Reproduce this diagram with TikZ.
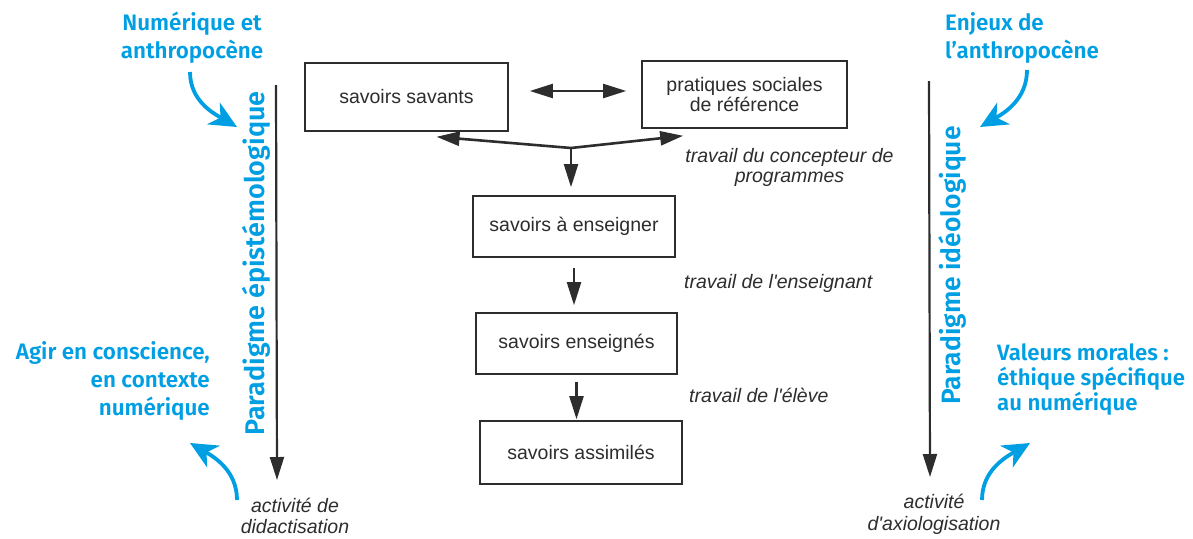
\documentclass[tikz,border=0pt]{standalone}
\usepackage{fontspec}
\setmainfont{Liberation Sans}
\newfontfamily\policebleue{Fira Sans SemiBold}
\usepackage{tikz}
\usetikzlibrary{arrows.meta}
\definecolor{bleu}{RGB}{0,159,227}
\definecolor{trait}{RGB}{45,45,45}

\begin{document}
\begin{tikzpicture}[x=1pt, y=-1pt,
    boite/.style={draw=trait, line width=1.6pt, text=trait, inner sep=0pt, align=center, font=\fontsize{19.5}{20}\selectfont},
    fleche/.style={draw=trait, line width=2.2pt, >={Triangle[length=23pt,width=14pt]}},
    legende/.style={text=trait, inner sep=0pt, font=\fontsize{19.5}{20}\selectfont\itshape},
    bleutexte/.style={text=bleu, inner sep=0pt, font=\fontsize{22.4}{28}\policebleue},
    courbe/.style={draw=bleu, line width=3.8pt, -{Stealth[length=27pt,width=25pt,inset=8pt]}}]
    \useasboundingbox (0,0) rectangle (1193,538);

    % Les cinq boites du schema
    \node[boite, minimum width=203pt, minimum height=68pt] (savants) at (406.5,97) {savoirs savants};
    \node[boite, minimum width=205pt, minimum height=67pt] (pratiques) at (744.5,94.5) {pratiques sociales\\de référence};
    \node[boite, minimum width=202pt, minimum height=61pt] (aenseigner) at (574,226.5) {savoirs à enseigner};
    \node[boite, minimum width=201pt, minimum height=61pt] (enseignes) at (576.5,343.5) {savoirs enseignés};
    \node[boite, minimum width=202pt, minimum height=63pt] (assimiles) at (581,452.5) {savoirs assimilés};

    % Fleche double entre les deux premieres boites
    \draw[fleche, <->, shorten <=21pt, shorten >=15pt] ([yshift=6pt]savants.east) -- ([yshift=3.5pt]pratiques.west);

    % La fourche vers les boites du haut
    \coordinate (fourche) at (571,148);
    \draw[fleche, ->, line width=2.6pt] (fourche) -- ([xshift=30pt,yshift=-5pt]savants.south);
    \draw[fleche, ->, line width=2.6pt] (fourche) -- ([xshift=42pt,yshift=-7pt]pratiques.south west);
    \draw[fleche, ->, shorten >=8pt] (fourche) -- (fourche |- aenseigner.north);

    % Fleches verticales entre les boites
    \draw[fleche, ->, shorten <=10pt, shorten >=7pt] (aenseigner.south) -- (aenseigner.south |- enseignes.north);
    \draw[fleche, ->, shorten <=7pt, shorten >=1pt] (enseignes.south) -- (enseignes.south |- assimiles.north);

    % Legendes en italique
    \node[legende, anchor=base, align=center] (concepteur) at (789.5,182) {travail du concepteur de\\programmes};
    \node[legende, anchor=base west] (enseignant) at (684,288) {travail de l\textquotesingle enseignant};
    \node[legende, anchor=base west] (eleve) at (689,402) {travail de l\textquotesingle élève};

    % Les deux grandes fleches verticales
    \coordinate (epihaut) at (276,85);
    \coordinate (epibas) at (277,480);
    \draw[fleche, ->] (epihaut) -- (epibas);
    \coordinate (ideohaut) at (929,81);
    \coordinate (ideobas) at (930,477);
    \draw[fleche, ->] (ideohaut) -- (ideobas);
    \node[legende, anchor=base, align=center, font=\fontsize{19.5}{21}\selectfont\itshape] (didactisation) at (295,533) {activité de\\didactisation};
    \node[legende, anchor=base, align=center, font=\fontsize{19.5}{22}\selectfont\itshape] (axiologisation) at (934,530) {activité\\d\textquotesingle axiologisation};

    % Les paradigmes
    \node[bleutexte, font=\fontsize{27}{30}\policebleue, rotate=90] (epistemo) at (256,263.5) {Paradigme épistémologique};
    \node[bleutexte, font=\fontsize{26.5}{30}\policebleue, rotate=90] (ideo) at (952,265.5) {Paradigme idéologique};

    % Textes en bleu
    \node[bleutexte, anchor=base, align=center] (numanthropo) at (192,58) {Numérique et\\anthropocène};
    \node[bleutexte, anchor=base west, align=left] (enjeux) at (945,58) {Enjeux de\\l’anthropocène};
    \node[bleutexte, anchor=base east, align=right] (agir) at (210,415) {Agir en conscience,\\en contexte\\numérique};
    \node[bleutexte, anchor=base west, align=left, font=\fontsize{22.2}{25}\policebleue] (valeurs) at (997,410) {Valeurs morales :\\éthique spécifique\\au numérique};

    % Fleches courbes en bleu
    \coordinate (c1a) at (190,72);
    \coordinate (c1b) at (237,127);
    \draw[courbe] (c1a) to[out=-90, in=150] (c1b);
    \coordinate (c2a) at (1027,70);
    \coordinate (c2b) at (980,127);
    \draw[courbe] (c2a) to[out=-90, in=30] (c2b);
    \coordinate (c3a) at (237,500);
    \coordinate (c3b) at (190,443);
    \draw[courbe] (c3a) to[out=90, in=-30] (c3b);
    \coordinate (c4a) at (982,500);
    \coordinate (c4b) at (1030,443);
    \draw[courbe] (c4a) to[out=90, in=210] (c4b);
\end{tikzpicture}
\end{document}
